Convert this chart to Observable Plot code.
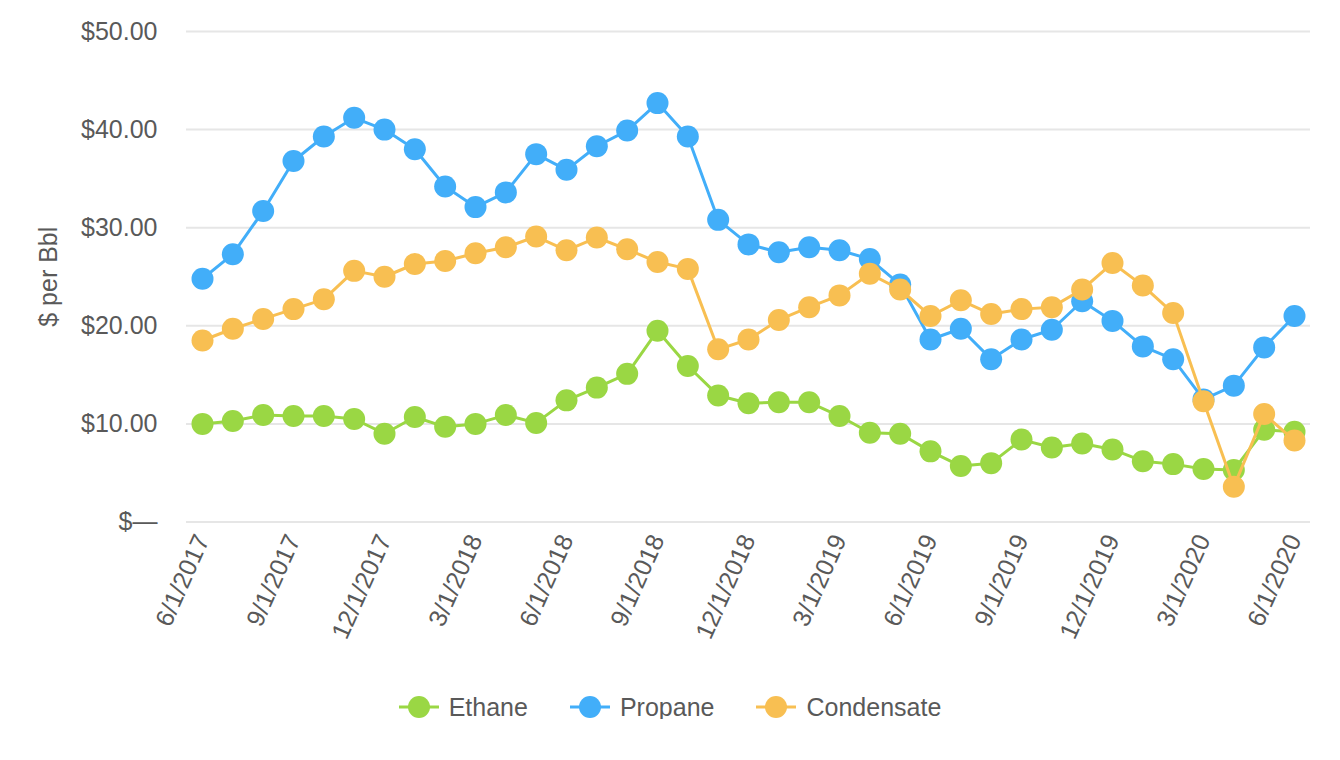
<!DOCTYPE html>
<html>
<head>
<meta charset="utf-8">
<script src="https://cdn.jsdelivr.net/npm/d3@7"></script>
<script src="https://cdn.jsdelivr.net/npm/@observablehq/plot@0.6"></script>
<style>
  body { margin: 0; background: #fff; font-family: "Liberation Sans", Arial, sans-serif; }
  #legend { display: flex; justify-content: center; align-items: center; margin-top: 15px; height: 24px; font-size: 25px; color: #595959; }
  .item { display: flex; align-items: center; margin: 0 21px; }
  .item svg { margin-right: 10px; }
</style>
</head>
<body>
<div id="chart"></div>
<div id="legend"></div>
<script>
const months = ["6/1/2017","7/1/2017","8/1/2017","9/1/2017","10/1/2017","11/1/2017","12/1/2017",
  "1/1/2018","2/1/2018","3/1/2018","4/1/2018","5/1/2018","6/1/2018","7/1/2018","8/1/2018","9/1/2018","10/1/2018","11/1/2018","12/1/2018",
  "1/1/2019","2/1/2019","3/1/2019","4/1/2019","5/1/2019","6/1/2019","7/1/2019","8/1/2019","9/1/2019","10/1/2019","11/1/2019","12/1/2019",
  "1/1/2020","2/1/2020","3/1/2020","4/1/2020","5/1/2020","6/1/2020"];
const tickLabels = ["6/1/2017","9/1/2017","12/1/2017","3/1/2018","6/1/2018","9/1/2018","12/1/2018","3/1/2019","6/1/2019","9/1/2019","12/1/2019","3/1/2020","6/1/2020"];
const yTicks = [0, 10, 20, 30, 40, 50];

const ethane = [10.0,10.3,10.9,10.8,10.8,10.5,9.0,10.7,9.7,10.0,10.9,10.1,12.4,13.7,15.1,19.5,15.9,12.9,12.1,12.2,12.2,10.8,9.1,9.0,7.2,5.7,6.0,8.4,7.6,8.0,7.4,6.2,5.9,5.4,5.3,9.4,9.2];
const propane = [24.8,27.3,31.7,36.8,39.3,41.2,40.0,38.0,34.2,32.1,33.6,37.5,35.9,38.3,39.9,42.7,39.3,30.8,28.3,27.5,28.0,27.7,26.8,24.2,18.6,19.7,16.6,18.6,19.6,22.5,20.5,17.9,16.6,12.5,13.9,17.8,21.0];
const condensate = [18.5,19.7,20.7,21.7,22.7,25.6,25.0,26.3,26.6,27.4,28.0,29.1,27.7,29.0,27.8,26.5,25.8,17.6,18.6,20.6,21.9,23.1,25.3,23.7,21.0,22.6,21.2,21.7,21.9,23.7,26.4,24.1,21.3,12.3,3.6,11.0,8.3];

const seriesNames = ["Ethane", "Propane", "Condensate"];
const seriesColors = ["#9ad744", "#42aef9", "#f8bf52"];
const seriesValues = [ethane, propane, condensate];

const seriesMarks = seriesValues.flatMap((vals, s) => {
  const data = vals.map((v, i) => ({month: months[i], value: v}));
  return [
    Plot.line(data, {x: "month", y: "value", stroke: seriesColors[s], strokeWidth: 3}),
    Plot.dot(data, {x: "month", y: "value", r: 11, fill: seriesColors[s], stroke: "none"})
  ];
});

const chart = Plot.plot({
  width: 1340,
  height: 680,
  marginLeft: 186,
  marginRight: 30,
  marginTop: 31,
  marginBottom: 158.5,
  style: {fontFamily: "Liberation Sans, Arial, sans-serif", fontSize: "25px", color: "#595959", background: "#fff"},
  x: {type: "point", domain: months, padding: 0, insetLeft: 16, insetRight: 16, round: false},
  y: {domain: [0, 50]},
  marks: [
    Plot.gridY(yTicks, {stroke: "#e6e6e6", strokeOpacity: 1, strokeWidth: 2}),
    Plot.axisY(yTicks, {tickSize: 0, tickPadding: 29, label: null, fontSize: 25,
      tickFormat: d => d === 0 ? "$\u2014" : "$" + d.toFixed(2)}),
    Plot.axisX(tickLabels, {tickSize: 0, tickPadding: 14, tickRotate: -66, label: null, fontSize: 25}),
    Plot.text(["$ per Bbl"], {frameAnchor: "left", dx: -138, rotate: -90, textAnchor: "middle", fontSize: 25, fill: "#595959"}),
    ...seriesMarks
  ]
});
document.getElementById("chart").append(chart);

const legend = document.getElementById("legend");
seriesNames.forEach((name, s) => {
  const item = document.createElement("div");
  item.className = "item";
  item.innerHTML = `<svg width="40" height="24"><line x1="0" x2="40" y1="12" y2="12" stroke="${seriesColors[s]}" stroke-width="3"/><circle cx="20" cy="12" r="11" fill="${seriesColors[s]}"/></svg><span>${name}</span>`;
  legend.append(item);
});
</script>
</body>
</html>
